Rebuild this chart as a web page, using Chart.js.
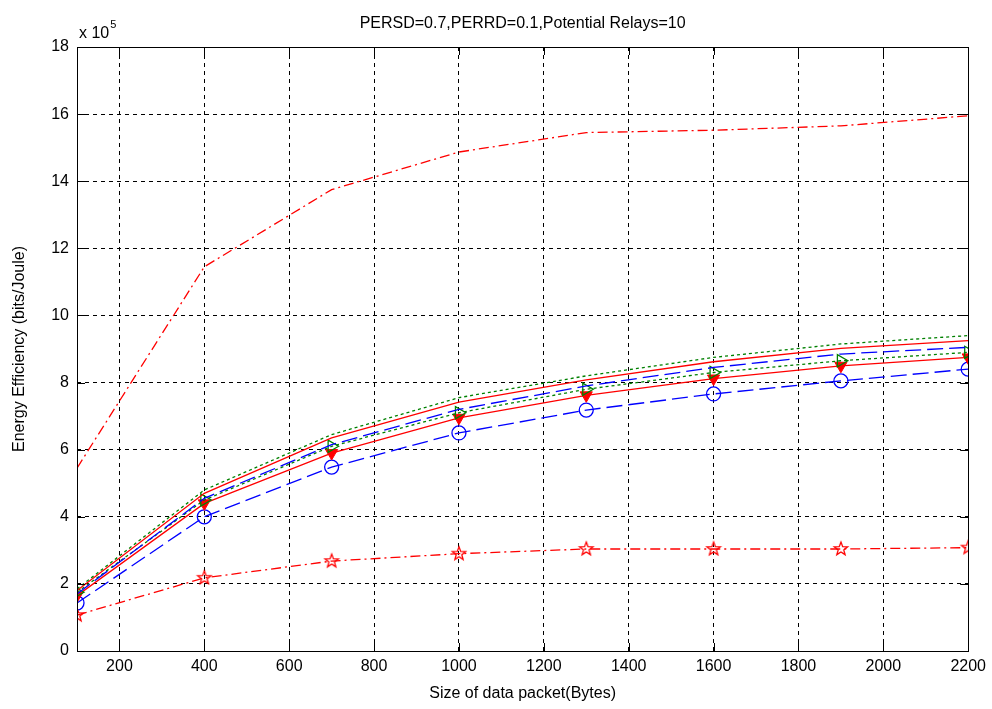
<!DOCTYPE html>
<html>
<head>
<meta charset="utf-8">
<script src="https://cdn.jsdelivr.net/npm/chart.js@4.4.1/dist/chart.umd.min.js"></script>
<style>
  html, body { margin:0; padding:0; background:#fff; }
  #wrap { width:992px; height:709px; position:relative; }
</style>
</head>
<body>
<div id="wrap"><canvas id="c" width="992" height="709"></canvas></div>
<script>
// datos (eje y en unidades de 10^5)
const xValues = [100, 400, 700, 1000, 1300, 1600, 1900, 2200];
const xTicks = [200, 400, 600, 800, 1000, 1200, 1400, 1600, 1800, 2000, 2200];
const yTicks = [0, 2, 4, 6, 8, 10, 12, 14, 16, 18];

const redDashDotTop = [5.45, 11.45, 13.75, 14.87, 15.45, 15.52, 15.65, 15.95];
const redDashDotStar = [1.07, 2.18, 2.68, 2.9, 3.04, 3.04, 3.04, 3.08];
const greenDottedTop = [1.85, 4.8, 6.45, 7.55, 8.2, 8.75, 9.15, 9.4];
const redSolidTop = [1.8, 4.7, 6.35, 7.42, 8.08, 8.62, 9.02, 9.25];
const blueDashedTop = [1.7, 4.55, 6.15, 7.2, 7.9, 8.45, 8.85, 9.05];
const greenDottedTri = [1.75, 4.5, 6.1, 7.1, 7.8, 8.3, 8.65, 8.9];
const redSolidFilled = [1.65, 4.4, 5.9, 6.95, 7.62, 8.12, 8.5, 8.75];
const blueDashedCircle = [1.43, 4.0, 5.48, 6.5, 7.18, 7.66, 8.05, 8.4];

const FONT = "'Liberation Sans', Arial, sans-serif";

function pts(ys){ return xValues.map((x,i)=>({x, y: ys[i]})); }

// estrella de 5 puntas (pentagrama) como imagen de marcador
function starImg(r, stroke, fill){
  const c = document.createElement("canvas");
  const s = Math.ceil(2*r + 4);
  c.width = s; c.height = s;
  const g = c.getContext("2d");
  g.translate(s/2, s/2);
  g.beginPath();
  for (let k=0;k<10;k++){
    const rr = (k%2===0) ? r : r*0.42;
    const a = -Math.PI/2 + k*Math.PI/5;
    const px = rr*Math.cos(a), py = rr*Math.sin(a);
    k===0 ? g.moveTo(px,py) : g.lineTo(px,py);
  }
  g.closePath();
  if (fill){ g.fillStyle = fill; g.fill(); }
  g.strokeStyle = stroke; g.lineWidth = 1.3; g.stroke();
  return c;
}

function ds(data, color, dash, extra){
  return Object.assign({
    data: pts(data),
    borderColor: color,
    borderWidth: 1.3,
    borderDash: dash,
    pointRadius: 0,
    fill: false,
    tension: 0
  }, extra || {});
}

const datasets = [
  ds(redDashDotTop, "#ff0000", [10,4,2,4]),
  ds(redDashDotStar, "#ff0000", [10,4,2,4], {
    pointStyle: starImg(7, "#ff0000"), pointRadius: 7
  }),
  ds(greenDottedTop, "#008000", [3,3]),
  ds(redSolidTop, "#ff0000", []),
  ds(blueDashedTop, "#0000ff", [16,6]),
  ds(greenDottedTri, "#008000", [3,3], {
    pointStyle: "triangle", rotation: 90, pointRadius: 7,
    pointBorderColor: "#008000", pointBackgroundColor: "rgba(0,0,0,0)", pointBorderWidth: 1.3
  }),
  ds(redSolidFilled, "#ff0000", [], {
    pointStyle: "triangle", rotation: 180, pointRadius: 7,
    pointBorderColor: "#ff0000", pointBackgroundColor: "#ff0000", pointBorderWidth: 1
  }),
  ds(blueDashedCircle, "#0000ff", [16,6], {
    pointStyle: "circle", pointRadius: 7,
    pointBorderColor: "#0000ff", pointBackgroundColor: "rgba(0,0,0,0)", pointBorderWidth: 1.3
  })
];

// caja, marcas interiores, título y "x 10^5"
const matlabDecor = {
  id: "matlabDecor",
  afterDatasetsDraw(chart){
    const {ctx, chartArea:a, scales:{x, y}} = chart;
    ctx.save();
    ctx.strokeStyle = "#000";
    ctx.lineWidth = 1;
    ctx.setLineDash([]);
    ctx.strokeRect(Math.round(a.left)+0.5, Math.round(a.top)+0.5,
                   Math.round(a.right-a.left), Math.round(a.bottom-a.top));
    const L = 8;
    ctx.beginPath();
    xTicks.forEach(v=>{
      const px = Math.round(x.getPixelForValue(v))+0.5;
      ctx.moveTo(px, a.bottom); ctx.lineTo(px, a.bottom-L);
      ctx.moveTo(px, a.top); ctx.lineTo(px, a.top+L);
    });
    yTicks.forEach(v=>{
      const py = Math.round(y.getPixelForValue(v))+0.5;
      ctx.moveTo(a.left, py); ctx.lineTo(a.left+L, py);
      ctx.moveTo(a.right, py); ctx.lineTo(a.right-L, py);
    });
    ctx.stroke();
    ctx.restore();
  },
  afterDraw(chart){
    const {ctx, chartArea:a} = chart;
    ctx.save();
    ctx.fillStyle = "#000";
    ctx.font = "16px " + FONT;
    ctx.textAlign = "center";
    ctx.textBaseline = "alphabetic";
    ctx.fillText("PERSD=0.7,PERRD=0.1,Potential Relays=10", (a.left+a.right)/2, 28);
    ctx.textAlign = "left";
    ctx.fillText("x 10", a.left+2, 38);
    const w = ctx.measureText("x 10").width;
    ctx.font = "11px " + FONT;
    ctx.fillText("5", a.left+2+w+1, 28);
    ctx.restore();
  }
};

new Chart(document.getElementById("c").getContext("2d"), {
  type: "line",
  data: { datasets },
  plugins: [matlabDecor],
  options: {
    responsive: false,
    animation: false,
    events: [],
    layout: { padding: { top: 47, right: 22, left: 0, bottom: 0 } },
    plugins: { legend: { display: false }, tooltip: { enabled: false }, title: { display: false } },
    scales: {
      x: {
        type: "linear",
        min: 100, max: 2200,
        afterBuildTicks: s => { s.ticks = xTicks.map(v=>({value:v})); },
        afterFit: s => { s.height = 58; },
        ticks: { color: "#000", font: { size: 16, family: FONT }, padding: 6, maxRotation: 0,
                 callback: v => String(v) },
        grid: { color: "#000", lineWidth: 1, drawTicks: false, tickLength: 0 },
        border: { display: false, dash: [4,4] },
        title: { display: true, text: "Size of data packet(Bytes)", color: "#000",
                 font: { size: 16, family: FONT }, padding: { top: 0, bottom: 6 } }
      },
      y: {
        type: "linear",
        min: 0, max: 18,
        afterBuildTicks: s => { s.ticks = yTicks.map(v=>({value:v})); },
        afterFit: s => { s.width = 77; },
        ticks: { color: "#000", font: { size: 16, family: FONT }, padding: 8,
                 callback: v => String(v) },
        grid: { color: "#000", lineWidth: 1, drawTicks: false, tickLength: 0 },
        border: { display: false, dash: [4,4] },
        title: { display: true, text: "Energy Efficiency (bits/Joule)", color: "#000",
                 font: { size: 16, family: FONT }, padding: { top: 10, bottom: 0 } }
      }
    }
  }
});
</script>
</body>
</html>
